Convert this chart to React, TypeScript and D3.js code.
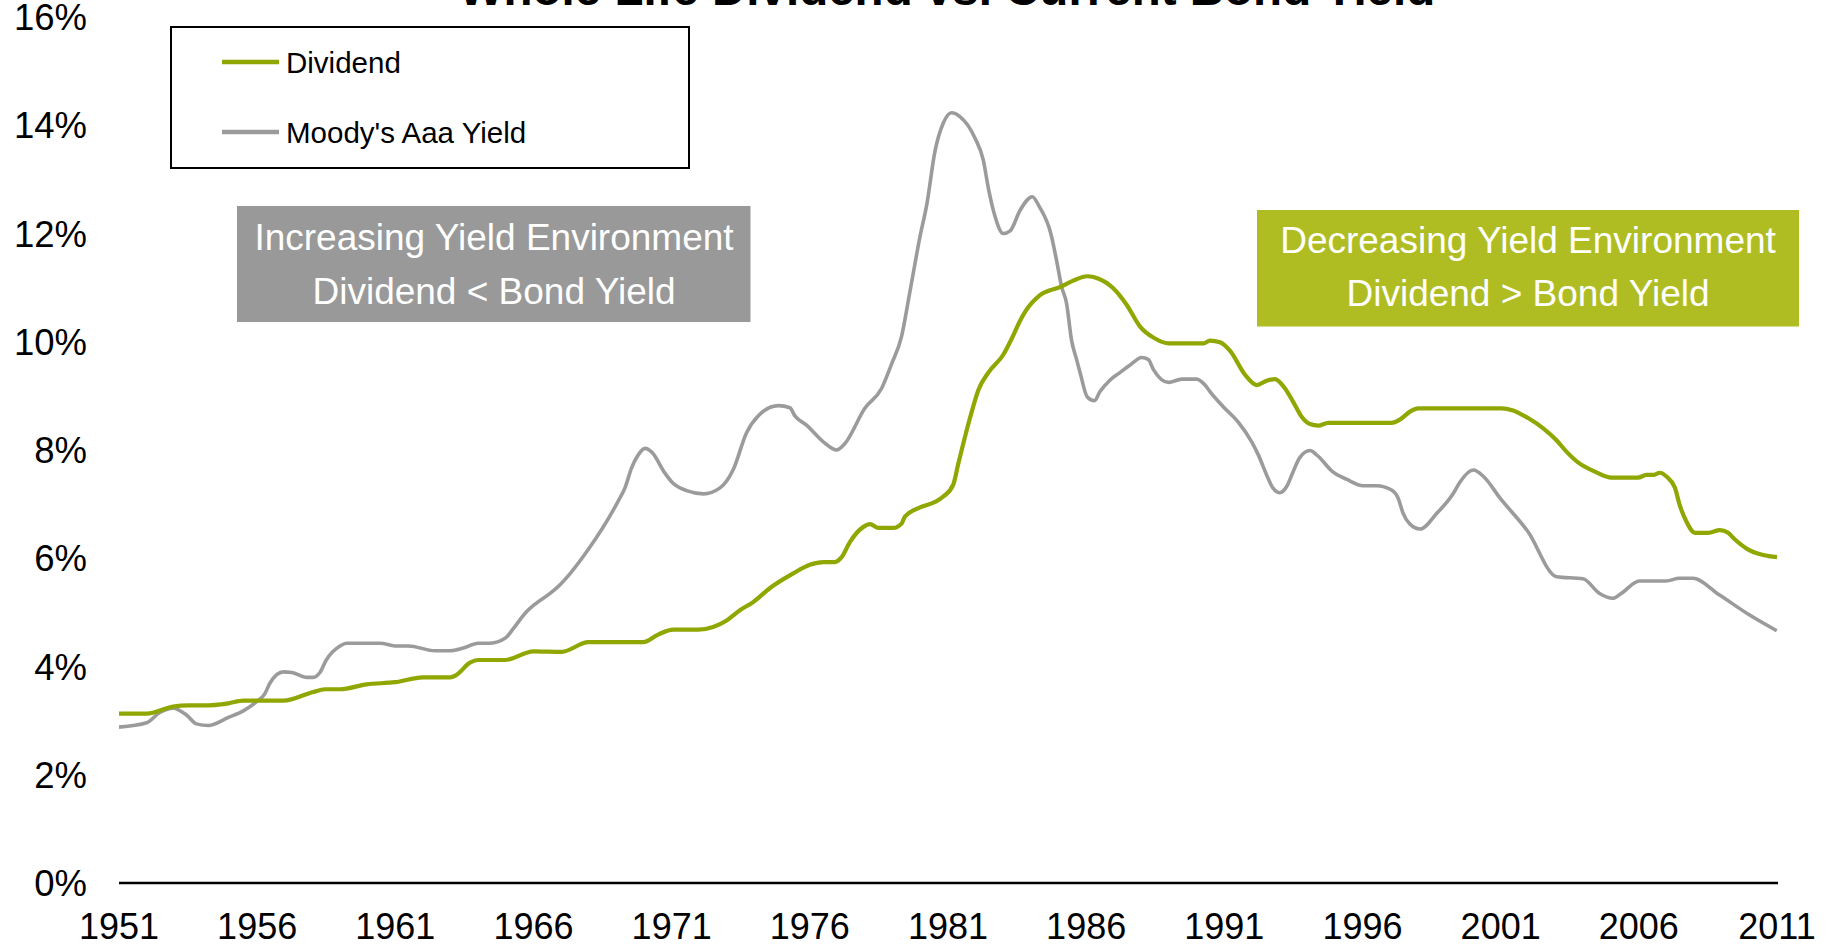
import React from "react";
import * as d3 from "d3";

const TITLE = "Whole Life Dividend vs. Current Bond Yield";
const xTickYears = [1951, 1956, 1961, 1966, 1971, 1976, 1981, 1986, 1991, 1996, 2001, 2006, 2011];
const yTicks = [0, 2, 4, 6, 8, 10, 12, 14, 16];

const dividendYears = [
  1951.0, 1952.0, 1952.96, 1953.5, 1954.05, 1954.96, 1955.5, 1956.95, 1958.03, 1958.45, 1959.0, 1959.96,
  1960.99, 1962.0, 1962.98, 1963.2, 1963.7, 1964.0, 1964.97, 1966.0, 1967.02, 1967.98, 1969.97, 1970.51,
  1971.06, 1971.96, 1972.5, 1972.99, 1973.47, 1973.95, 1974.56, 1975.4, 1976.0, 1976.49, 1976.91, 1977.15,
  1977.45, 1977.94, 1978.18, 1978.48, 1979.02, 1979.32, 1979.44, 1979.99, 1980.53, 1980.83, 1981.19, 1981.37,
  1981.8, 1982.1, 1982.46, 1983.0, 1983.3, 1983.6, 1983.8, 1984.33, 1985.05, 1985.53, 1986.04, 1986.43,
  1986.98, 1987.47, 1987.95, 1988.49, 1988.98, 1990.25, 1990.48, 1990.84, 1991.21, 1991.75, 1992.17, 1992.53,
  1992.83, 1993.19, 1993.49, 1993.79, 1994.1, 1994.4, 1994.76, 1997.05, 1997.35, 1997.72, 1998.01, 2001.03,
  2001.45, 2001.99, 2002.54, 2003.02, 2003.38, 2003.8, 2004.41, 2005.01, 2005.97, 2006.28, 2006.52, 2006.76,
  2007.0, 2007.3, 2007.48, 2007.72, 2008.03, 2008.51, 2008.93, 2009.23, 2009.47, 2009.96, 2010.5, 2011.0,
];
const dividendValues = [
  3.13, 3.13, 3.26, 3.28, 3.28, 3.32, 3.37, 3.37, 3.53, 3.58, 3.58, 3.67,
  3.71, 3.8, 3.8, 3.84, 4.07, 4.12, 4.12, 4.28, 4.27, 4.45, 4.45, 4.59,
  4.68, 4.68, 4.73, 4.85, 5.04, 5.19, 5.45, 5.72, 5.88, 5.93, 5.93, 6.02,
  6.3, 6.58, 6.63, 6.56, 6.56, 6.64, 6.77, 6.94, 7.04, 7.14, 7.36, 7.74,
  8.6, 9.11, 9.43, 9.76, 10.05, 10.38, 10.56, 10.86, 11.01, 11.13, 11.21, 11.17,
  10.99, 10.68, 10.28, 10.06, 9.97, 9.97, 10.02, 9.99, 9.83, 9.39, 9.2, 9.28,
  9.31, 9.14, 8.89, 8.62, 8.48, 8.45, 8.5, 8.5, 8.56, 8.71, 8.77, 8.77,
  8.73, 8.59, 8.4, 8.18, 7.97, 7.77, 7.6, 7.49, 7.49, 7.54, 7.54, 7.58,
  7.51, 7.31, 6.98, 6.68, 6.47, 6.47, 6.52, 6.47, 6.35, 6.16, 6.06, 6.02,
];

const aaaYears = [
  1951.0, 1952.0, 1952.48, 1952.96, 1953.45, 1953.8, 1954.23, 1954.96, 1955.5, 1955.98, 1956.28, 1956.46,
  1956.95, 1957.25, 1957.8, 1958.03, 1958.27, 1958.5, 1959.0, 1959.24, 1960.45, 1960.99, 1961.47, 1962.44,
  1962.98, 1963.46, 1964.0, 1964.43, 1964.97, 1965.27, 1965.69, 1966.05, 1966.6, 1966.9, 1967.98, 1969.07,
  1969.31, 1969.55, 1969.79, 1970.04, 1970.28, 1970.76, 1971.06, 1971.54, 1972.15, 1972.75, 1973.23, 1973.71,
  1974.13, 1974.86, 1975.28, 1975.46, 1975.88, 1976.49, 1976.97, 1977.27, 1977.99, 1978.6, 1978.96, 1979.32,
  1979.62, 1979.99, 1980.23, 1980.53, 1980.83, 1981.13, 1981.43, 1981.98, 1982.28, 1982.46, 1982.7, 1983.0,
  1983.25, 1983.61, 1984.05, 1984.3, 1984.72, 1984.93, 1985.11, 1985.29, 1985.47, 1985.66, 1985.8, 1986.04,
  1986.3, 1986.5, 1986.86, 1987.22, 1987.59, 1988.01, 1988.25, 1988.43, 1988.98, 1989.46, 1990.0, 1990.3,
  1990.48, 1990.96, 1991.51, 1991.99, 1992.23, 1992.53, 1992.77, 1993.01, 1993.25, 1993.49, 1993.73, 1994.1,
  1994.34, 1994.94, 1995.42, 1996.03, 1996.51, 1997.05, 1997.29, 1997.47, 1997.72, 1998.08, 1998.69, 1999.29,
  1999.53, 2000.01, 2000.38, 2000.98, 2001.99, 2003.02, 2003.98, 2004.58, 2005.06, 2005.36, 2006.02, 2006.99,
  2007.47, 2007.95, 2008.92, 2010.01, 2010.99,
];
const aaaValues = [
  2.88, 2.96, 3.15, 3.23, 3.1, 2.94, 2.91, 3.06, 3.18, 3.35, 3.5, 3.69,
  3.9, 3.89, 3.8, 3.8, 3.89, 4.12, 4.38, 4.43, 4.43, 4.38, 4.38, 4.29,
  4.29, 4.34, 4.43, 4.43, 4.52, 4.7, 4.98, 5.15, 5.35, 5.48, 6.16, 7.06,
  7.3, 7.67, 7.91, 8.03, 7.96, 7.57, 7.38, 7.25, 7.19, 7.3, 7.64, 8.32,
  8.63, 8.82, 8.78, 8.63, 8.46, 8.15, 8.0, 8.12, 8.77, 9.14, 9.59, 10.1,
  10.92, 11.95, 12.53, 13.52, 14.04, 14.23, 14.16, 13.76, 13.35, 12.84, 12.32, 12.0,
  12.05, 12.43, 12.68, 12.5, 12.0, 11.5, 11.02, 10.71, 10.03, 9.66, 9.39, 8.98,
  8.91, 9.08, 9.29, 9.43, 9.57, 9.71, 9.67, 9.49, 9.25, 9.31, 9.31, 9.2,
  9.08, 8.8, 8.51, 8.15, 7.91, 7.54, 7.29, 7.21, 7.32, 7.6, 7.86, 7.99,
  7.91, 7.59, 7.46, 7.34, 7.34, 7.26, 7.11, 6.83, 6.63, 6.54, 6.83, 7.2,
  7.41, 7.63, 7.51, 7.11, 6.49, 5.66, 5.62, 5.35, 5.26, 5.35, 5.58, 5.58,
  5.63, 5.63, 5.32, 4.95, 4.66,
];

const seriesNames = ["Dividend", "Moody's Aaa Yield"];
const annotationLeft = ["Increasing Yield Environment", "Dividend < Bond Yield"];
const annotationRight = ["Decreasing Yield Environment", "Dividend > Bond Yield"];

const W = 1832;
const H = 944;
const GREEN = "#8fa700";
const GREY = "#9b9b9b";
const FONT = "'Liberation Sans', Arial, sans-serif";

export default function App() {
  const x = d3.scaleLinear().domain([1951, 2011]).range([119, 1777]);
  const y = d3.scaleLinear().domain([0, 16]).range([883, 17]);

  const line = d3
    .line<[number, number]>()
    .x((d) => x(d[0]))
    .y((d) => y(d[1]))
    .curve(d3.curveMonotoneX);

  const divData = dividendYears.map((yr, i) => [yr, dividendValues[i]] as [number, number]);
  const aaaData = aaaYears.map((yr, i) => [yr, aaaValues[i]] as [number, number]);

  const legendItems = [
    { name: seriesNames[0], color: GREEN, width: 4.5, y: 62 },
    { name: seriesNames[1], color: GREY, width: 4.5, y: 132 },
  ];

  return (
    <svg
      width={W}
      height={H}
      style={{ position: "absolute", left: 0, top: 0, background: "#fff" }}
      fontFamily={FONT}
    >
      <rect x={0} y={0} width={W} height={H} fill="#fff" />
      {/* title */}
      <text x={947} y={5} textAnchor="middle" fontWeight="bold" fontSize={47.5} fill="#000">
        {TITLE}
      </text>

      {/* y tick labels */}
      {yTicks.map((t) => (
        <text key={t} x={87} y={y(t) + 13} textAnchor="end" fontSize={36.5} fill="#000">
          {`${t}%`}
        </text>
      ))}

      {/* x tick labels */}
      {xTickYears.map((t) => (
        <text key={t} x={x(t)} y={938.5} textAnchor="middle" fontSize={36} fill="#000">
          {t}
        </text>
      ))}

      {/* x axis line */}
      <line x1={x(1951)} x2={x(2011) + 1} y1={y(0)} y2={y(0)} stroke="#000" strokeWidth={2.6} />

      {/* series */}
      <path d={line(aaaData) || ""} fill="none" stroke={GREY} strokeWidth={3.6} strokeLinejoin="round" />
      <path d={line(divData) || ""} fill="none" stroke={GREEN} strokeWidth={4.2} strokeLinejoin="round" />

      {/* legend */}
      <rect x={171} y={27} width={518} height={141} fill="#fff" stroke="#000" strokeWidth={2} />
      {legendItems.map((it) => (
        <g key={it.name}>
          <line x1={222} x2={279} y1={it.y} y2={it.y} stroke={it.color} strokeWidth={it.width} />
          <text x={286} y={it.y + 10.5} fontSize={29.5} fill="#000">
            {it.name}
          </text>
        </g>
      ))}

      {/* annotation boxes */}
      <rect x={237} y={206} width={513.5} height={116} fill="#999999" />
      {annotationLeft.map((s, i) => (
        <text key={s} x={494} y={250 + i * 54} textAnchor="middle" fontSize={37} fill="#fff">
          {s}
        </text>
      ))}
      <rect x={1257} y={210} width={542} height={116.5} fill="#afbd22" />
      {annotationRight.map((s, i) => (
        <text key={s} x={1528} y={253 + i * 53} textAnchor="middle" fontSize={37} fill="#fff">
          {s}
        </text>
      ))}
    </svg>
  );
}
